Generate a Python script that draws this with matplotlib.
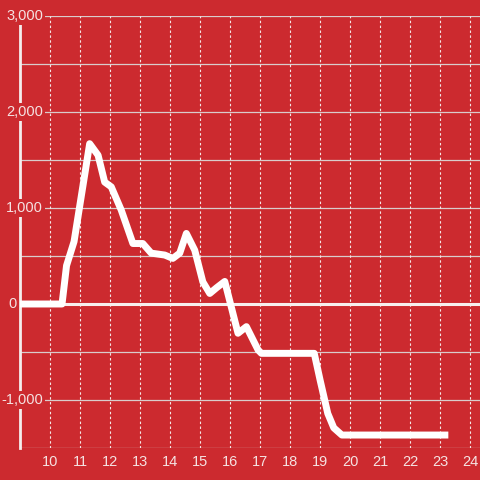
import matplotlib.pyplot as plt

# heure / valeur
hours = [9, 10.4, 10.55, 10.8, 11.32, 11.6, 11.82, 12.04, 12.37, 12.76, 13.09,
         13.37, 13.82, 14.09, 14.32, 14.54, 14.82, 15.09, 15.32, 15.55, 15.82,
         16.26, 16.54, 16.93, 17.04, 18.8, 19.0, 19.25, 19.45, 19.72, 23.15]
values = [0, 0, 400, 650, 1670, 1550, 1270, 1220, 980, 630, 630,
          530, 510, 475, 530, 735, 560, 230, 110, 170, 235,
          -305, -236, -479, -514, -514, -800, -1140, -1290, -1365, -1365]

x_ticks = list(range(10, 25))
y_ticks = [3000, 2000, 1000, 0, -1000]
y_labels = ["3,000", "2,000", "1,000", "0", "-1,000"]

bg = "#cc2a2f"
txt = "#f5e2e2"
font = "Liberation Sans"
fs = 10.5

fig = plt.figure(figsize=(4.8, 4.8), dpi=100, facecolor=bg)
ax = fig.add_axes([20 / 480, 32 / 480, 460 / 480, 432 / 480])
ax.set_facecolor(bg)
ax.set_xlim(9, 24.32)
ax.set_ylim(-1500, 3000)

for v in range(-1500, 3001, 500):
    if v == 0:
        continue
    ax.axhline(v, color="#d9cccc", lw=0.9, zorder=1)
for h in x_ticks:
    ax.axvline(h, color="#f5e6e6", lw=0.8, ls=(0, (2.2, 2.2)), zorder=1)
ax.axhline(0, color="#f7eeee", lw=2.2, zorder=2)

ax.plot(hours, values, color="white", lw=5, zorder=3)

for sp in ["top", "right", "bottom"]:
    ax.spines[sp].set_visible(False)
ax.spines["left"].set_color("#f5eeee")
ax.spines["left"].set_linewidth(2)
ax.spines["left"].set_zorder(2.5)

ax.set_yticks([])
ax.set_xticks(x_ticks)
ax.set_xticklabels([str(h) for h in x_ticks])
ax.tick_params(axis="x", length=0, pad=5, labelsize=fs, labelcolor=txt)
for lbl in ax.get_xticklabels():
    lbl.set_fontfamily(font)

for v, s in zip(y_ticks, y_labels):
    if v == 0:
        ax.text(9 - 0.4, v, s, ha="left", va="center", fontsize=fs,
                color=txt, family=font, zorder=4)
    else:
        ax.text(9 + 23 / 30, v, s, ha="right", va="center", fontsize=fs,
                color=txt, family=font, zorder=4,
                bbox=dict(facecolor=bg, edgecolor="none", pad=1.5))

fig.savefig("out.png", dpi=100, facecolor=bg)
